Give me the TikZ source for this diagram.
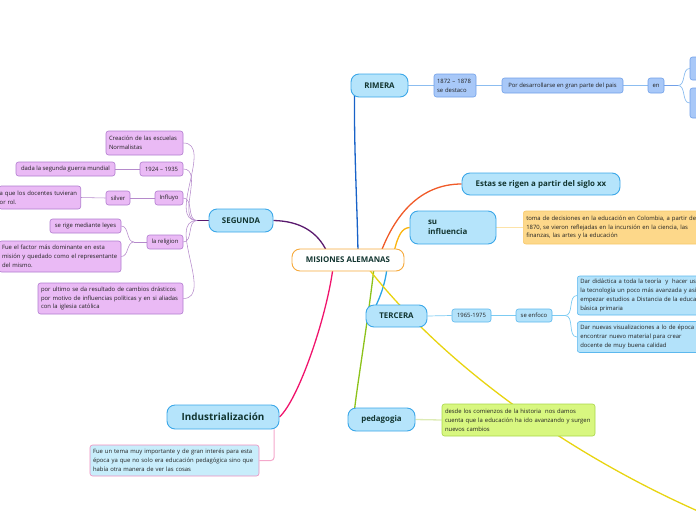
\documentclass[tikz,border=0pt]{standalone}
\usepackage{fontspec}
\setmainfont{Open Sans}
\definecolor{mainf}{HTML}{B5E4FB}
\definecolor{mainb}{HTML}{3BA7E8}
\definecolor{cenb}{HTML}{F6A93B}
\definecolor{dtext}{HTML}{123530}
\definecolor{stext}{HTML}{222222}
\definecolor{rf}{HTML}{A8C8F8}
\definecolor{rb}{HTML}{72A0E8}
\definecolor{rl}{HTML}{8CBDF0}
\definecolor{tf}{HTML}{B3E2FA}
\definecolor{tb}{HTML}{5CB8EE}
\definecolor{tl}{HTML}{7CCBF2}
\definecolor{sf}{HTML}{EABAF5}
\definecolor{sb}{HTML}{B07CCF}
\definecolor{sl}{HTML}{B58ACB}
\definecolor{of}{HTML}{FDD88A}
\definecolor{ob}{HTML}{F7C86A}
\definecolor{ol}{HTML}{FDE3A8}
\definecolor{gf}{HTML}{D8F780}
\definecolor{gb}{HTML}{A9D64A}
\definecolor{gl}{HTML}{DDEBB5}
\definecolor{pf}{HTML}{C8EDFB}
\definecolor{pb}{HTML}{EE8FBF}
\definecolor{pl}{HTML}{F4A8CB}
\definecolor{cseg}{HTML}{5A1A6E}
\definecolor{crim}{HTML}{1862C8}
\definecolor{cest}{HTML}{F05A28}
\definecolor{cinf}{HTML}{FBB40F}
\definecolor{cter}{HTML}{2AA5E6}
\definecolor{cped}{HTML}{8CC21A}
\definecolor{cind}{HTML}{F0146C}
\definecolor{cyel}{HTML}{E8D410}
\pgfdeclarelayer{bg}
\pgfsetlayers{bg,main}
\begin{document}
\begin{tikzpicture}[x=1pt,y=-1pt,
  mainn/.style={draw=mainb, fill=mainf, line width=0.9pt, rounded corners=8pt,
    font=\bfseries\fontsize{7.9}{10}\selectfont, text=dtext, inner sep=0pt},
  box/.style={rounded corners=2.5pt, line width=0.6pt, font=\fontsize{5.9}{8.8}\selectfont,
    text=stext, inner xsep=3pt, inner ysep=0pt, align=left},
  rbox/.style={box, draw=rb, fill=rf},
  tbox/.style={box, draw=tb, fill=tf},
  sbox/.style={box, draw=sb, fill=sf},
  thick1/.style={line width=1.3pt},
  thin1/.style={line width=0.7pt}
]
\useasboundingbox (0,0) rectangle (696,520);
\clip (0,0) rectangle (696,520);

\coordinate (c-seg) at (327,252);
\coordinate (c-rim) at (358,252);
\coordinate (c-est) at (381,252);
\coordinate (c-inf) at (394,252);
\coordinate (c-ter) at (387,268);
\coordinate (c-ped) at (374,268);
\coordinate (c-ind) at (333,268);
\coordinate (c-yel) at (368,268);
\coordinate (yel-end) at (700,512);

% ---------- nodes
\node[mainn, draw=cenb, fill=white, minimum width=112pt, minimum height=22pt] (c) at (348,260) {MISIONES ALEMANAS};

% RIMERA branch
\node[mainn, minimum width=57pt, minimum height=23pt] (rim) at (379.5,85.5) {RIMERA};
\node[rbox, minimum width=42pt, minimum height=23pt, text width=36pt] (r1) at (455,85.5) {1872 – 1878\\se destaco};
\node[rbox, minimum width=121pt, minimum height=15pt] (r2) at (562.5,85.5) {Por desarrollarse en gran parte del pais};
\node[rbox, minimum width=16pt, minimum height=15pt, inner xsep=1pt] (r3) at (656,85.5) {en};
\node[rbox, minimum width=30pt, minimum height=23pt] (r4) at (705,68.5) {};
\node[rbox, minimum width=30pt, minimum height=30pt] (r5) at (705,103) {};
\coordinate (rj) at (678,85.5);

% Estas
\node[mainn, minimum width=158pt, minimum height=22pt] (est) at (541,184) {Estas se rigen a partir del siglo xx};

% su influencia
\node[mainn, minimum width=86pt, minimum height=33pt, align=left, text width=50pt] (inf) at (453,227.5) {su\\influencia};
\node[box, draw=ob, fill=of, anchor=west, minimum height=33pt, text width=200pt] (toma) at (523,227.5) {toma de decisiones en la educación en Colombia, a partir de\\1870, se vieron reflejadas en la incursión en la ciencia, las\\finanzas, las artes y la educación};

% TERCERA
\node[mainn, minimum width=61pt, minimum height=22pt] (ter) at (396.5,316) {TERCERA};
\node[tbox, minimum width=39pt, minimum height=13pt, inner xsep=1pt] (t1) at (471.5,315.5) {1965-1975};
\node[tbox, minimum width=36pt, minimum height=13pt, inner xsep=1pt] (t2) at (534,315.5) {se enfoco};
\node[tbox, anchor=west, minimum height=39pt, text width=170pt] (t3) at (577,295.5) {Dar didáctica a toda la teoría \ y \ hacer uso de\\la tecnología un poco más avanzada y así\\empezar estudios a Distancia de la educación\\básica primaria};
\node[tbox, anchor=west, minimum height=31pt, text width=170pt] (t4) at (577,337) {Dar nuevas visualizaciones a lo de época\\encontrar nuevo material para crear\\docente de muy buena calidad};
\coordinate (tj) at (565,315.5);

% pedagogia
\node[mainn, minimum width=67pt, minimum height=23pt] (ped) at (381.5,419.5) {pedagogia};
\node[box, draw=gb, fill=gf, minimum width=153pt, minimum height=32pt, text width=147pt] (desde) at (518.5,420) {desde los comienzos de la historia \ nos damos\\cuenta que la educación ha ido avanzando y surgen\\nuevos cambios};

% Industrializacion
\node[mainn, minimum width=112pt, minimum height=24pt, font=\bfseries\fontsize{9.9}{11}\selectfont] (ind) at (223,417) {Industrialización};
\node[box, draw=pb, fill=pf, minimum width=169pt, minimum height=31pt, text width=163pt] (fue) at (174.5,460.5) {Fue un tema muy importante y de gran interés para esta\\época ya que no solo era educación pedagógica sino que\\había otra manera de ver las cosas};

% SEGUNDA
\node[mainn, minimum width=64pt, minimum height=23pt] (seg) at (241,220.5) {SEGUNDA};
\coordinate (sj) at (197,220.5);
\node[sbox, minimum width=77pt, minimum height=24pt, text width=71pt] (s1) at (144.5,143) {Creación de las escuelas\\Normalistas};
\node[sbox, minimum width=43pt, minimum height=14pt, inner xsep=1pt] (s2) at (161.5,169) {1924 – 1935};
\node[sbox, minimum width=99pt, minimum height=14pt] (s3) at (65.5,169) {dada la segunda guerra mundial};
\node[sbox, minimum width=28pt, minimum height=14pt, inner xsep=1pt] (s4) at (169,198) {Influyo};
\node[sbox, minimum width=24pt, minimum height=14pt, inner xsep=1pt] (s5) at (118,198) {silver};
\node[sbox, anchor=east, minimum height=23pt, text width=80pt, inner xsep=1pt] (s6) at (81,197.5) {a que los docentes tuvieran\\or rol.};
\node[sbox, minimum width=36pt, minimum height=14pt, inner xsep=1pt] (s7) at (165,242) {la religion};
\node[sbox, minimum width=71pt, minimum height=14pt] (s8) at (85.5,226) {se rige mediante leyes};
\node[sbox, minimum width=122pt, minimum height=31pt, text width=116pt] (s9) at (60,256.5) {Fue el factor más dominante en esta\\misión y quedado como el representante\\del mismo.};
\node[sbox, minimum width=145pt, minimum height=31pt, text width=139pt] (s10) at (110.5,298.5) {por ultimo se da resultado de cambios drásticos\\por motivo de influencias políticas y en si aliadas\\con la iglesia católica};
\coordinate (lj) at (134,242);

% ---------- connectors
\begin{pgfonlayer}{bg}
  % main branches
  \draw[cseg, thick1] (c-seg) .. controls (318,232) and (300,221) .. (seg.east);
  \draw[crim, thick1] (c-rim) .. controls (357,200) and (354,150) .. ([shift={(4pt,3pt)}]rim.south west);
  \draw[cest, thick1] (c-est) .. controls (395,215) and (420,184) .. (est.west);
  \draw[cinf, thick1] (c-inf) .. controls (398,235) and (402,228) .. (inf.west);
  \draw[cter, thick1] (c-ter) .. controls (385,285) and (380,297) .. ([shift={(-21pt,-2pt)}]ter.north);
  \draw[cped, thick1] (c-ped) .. controls (368,320) and (358,380) .. ([shift={(-27pt,-2pt)}]ped.north);
  \draw[cind, thick1] (c-ind) .. controls (326,320) and (298,400) .. (ind.east);
  \draw[cyel, thick1] (c-yel) .. controls (440,360) and (560,450) .. (yel-end);
  % RIMERA
  \draw[rl, thin1] (rim.east) -- (r1.west);
  \draw[rl, thin1] (r1.east) -- (r2.west);
  \draw[rl, thin1] (r2.east) -- (r3.west);
  \draw[rb, thin1] (r3.east) -- (rj);
  \draw[rl, thin1] (rj) to[out=0,in=180] (r4.west);
  \draw[rl, thin1] (rj) to[out=0,in=180] (r5.west);
  % su influencia
  \draw[ol, line width=1.1pt] (inf.east) -- (toma.west);
  % TERCERA
  \draw[tl, thin1] (ter.east) -- (t1.west);
  \draw[tl, thin1] (t1.east) -- (t2.west);
  \draw[tl, thin1] (t2.east) -- (tj);
  \draw[tl, thin1] (tj) to[out=0,in=180] (t3.west);
  \draw[tl, thin1] (tj) to[out=0,in=180] (t4.west);
  % pedagogia
  \draw[gl, line width=1.3pt] (ped.east) -- (desde.west);
  % Industrializacion
  \draw[pl, line width=1pt, rounded corners=3pt] ([xshift=51pt]ind.south) |- (fue.east);
  % SEGUNDA
  \draw[cseg, line width=0.9pt] (seg.west) -- (sj);
  \foreach \n in {s1,s2,s4,s7,s10}
    \draw[sl, line width=0.55pt] (sj) to[out=180,in=0] (\n.east);
  \draw[sl, line width=0.55pt] (s2.west) -- (s3.east);
  \draw[sl, line width=0.55pt] (s4.west) -- (s5.east);
  \draw[sl, line width=0.55pt] (s5.west) -- (s6.east);
  \draw[sl, line width=0.55pt] (s7.west) -- (lj);
  \draw[sl, line width=0.55pt] (lj) to[out=180,in=0] (s8.east);
  \draw[sl, line width=0.55pt] (lj) to[out=180,in=0] (s9.east);
\end{pgfonlayer}
\end{tikzpicture}
\end{document}
